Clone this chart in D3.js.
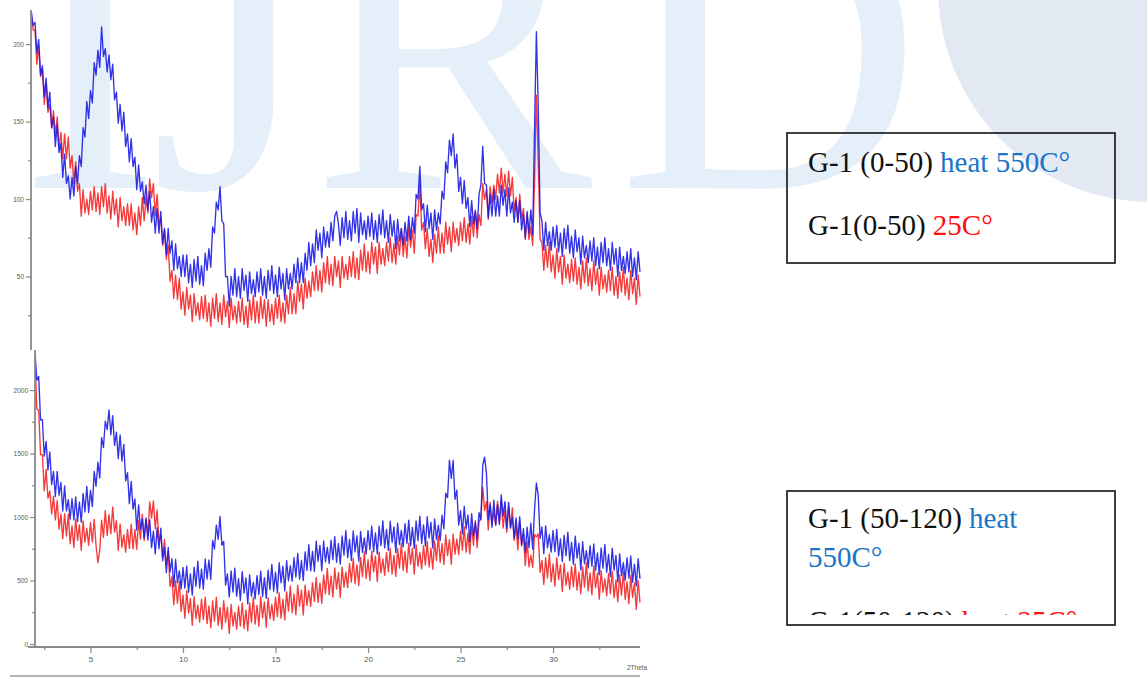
<!DOCTYPE html>
<html><head><meta charset="utf-8">
<script src="https://cdn.jsdelivr.net/npm/d3@7"></script>
<style>body{margin:0;background:#fff}svg{display:block}</style>
</head><body>
<svg id="c" width="1147" height="681"></svg>
<script>
// ---- data (2-theta scans, step 0.1 deg) ----
const angleStep = 0.1;
const topStart = 1.8;
const bottomStart = 2.0;
const xTicks = [5, 10, 15, 20, 25, 30];
const xMinorTicks = [2.5, 7.5, 12.5, 17.5, 22.5, 27.5, 32.5];
const topTicks = [50, 100, 150, 200];
const topMinorTicks = [25, 75, 125, 175];
const bottomTicks = [0, 500, 1000, 1500, 2000];
const bottomMinorTicks = [250, 750, 1250, 1750];

// G-1 (0-50) heat 550C
const topHeated = [221,212,
214,194,203,180,186,166,178,159,169,146,
153,134,148,130,136,114,129,110,115,100,
114,102,121,110,128,121,146,140,163,152,
170,162,188,180,196,185,211,192,197,182,
193,177,187,164,169,149,161,144,156,134,
142,124,139,121,127,106,122,105,111,97,
109,93,105,85,95,78,94,78,92,71,
81,64,81,65,73,54,71,55,63,50,
64,50,64,46,58,43,61,47,63,45,
57,44,65,54,68,56,82,78,98,93,
108,86,84,50,50,31,50,38,55,37,
50,36,55,41,51,34,53,39,48,37,
53,40,55,38,50,36,54,41,57,39,
51,37,56,42,52,35,55,42,52,42,
58,46,62,46,59,46,65,54,72,57,
71,59,80,67,78,62,82,69,79,69,
85,73,89,92,84,70,88,75,92,74,
86,73,92,78,94,72,91,77,86,74,
89,76,91,74,86,72,90,77,93,75,
86,72,90,76,86,68,87,73,81,70,
85,73,89,74,88,78,103,100,121,93,
97,79,96,81,91,74,93,80,91,84,
105,100,124,117,138,128,142,120,129,105,
114,97,112,94,101,82,99,84,92,81,
103,109,134,110,109,88,103,89,106,89,
102,89,109,96,106,89,107,91,98,85,
99,85,99,80,90,75,92,78,93,77,
145,208,160,91,86,67,85,70,79,67,
82,69,83,66,78,63,81,68,83,65,
76,62,80,66,75,58,76,62,70,59,
73,60,75,57,69,55,72,59,75,57,
68,54,72,58,68,50,69,54,63,52,
66,53,68,50,62,48,66,53];

// G-1 (0-50) 25C
const topRaw = [219,209,
209,187,199,179,184,161,175,156,161,146,
157,141,153,133,143,126,142,126,140,120,
128,110,124,105,110,89,106,91,100,90,
105,93,108,92,104,90,108,95,110,91,
102,87,105,90,100,82,101,86,95,83,
97,83,97,80,91,77,95,83,101,86,
101,91,113,101,110,89,103,84,87,70,
80,61,70,47,54,36,51,35,49,29,
40,25,43,29,38,21,39,25,33,22,
37,23,38,21,33,18,36,23,39,21,
33,19,38,24,34,17,36,22,31,20,
34,21,36,19,31,17,35,22,38,20,
34,20,37,23,35,18,35,21,32,19,
36,23,38,21,33,20,38,26,43,26,
39,26,47,34,45,29,49,36,47,37,
53,41,57,41,54,40,59,46,63,45,
58,44,63,50,60,43,63,49,58,48,
63,50,66,49,62,48,67,54,71,53,
66,52,72,58,69,52,72,58,68,57,
72,60,75,59,71,58,76,64,81,63,
76,62,82,69,80,65,90,89,111,80,
85,68,81,63,74,59,77,65,82,65,
78,65,85,71,82,66,85,72,81,70,
85,73,88,72,84,71,89,76,93,75,
90,83,110,100,106,87,108,97,109,100,
116,104,120,104,116,102,118,102,114,92,
101,85,103,87,94,74,90,74,82,70,
112,167,125,74,72,54,70,56,72,53,
64,49,68,53,63,45,64,49,58,46,
61,47,62,45,56,42,60,46,62,44,
55,41,60,45,55,38,56,42,51,40,
54,41,56,38,50,36,53,40,56,38,
49,35,54,39,49,32,51,37];

// G-1 (50-120) heat 550C
const bottomHeated = [
2291,2078,2108,1764,1768,1480,1596,1370,1512,1256,
1360,1162,1360,1172,1272,1048,1246,1048,1136,984,
1144,978,1158,964,1118,960,1186,1040,1242,1036,
1210,1082,1360,1242,1432,1308,1626,1548,1756,1691,
1844,1648,1798,1564,1668,1460,1647,1440,1572,1286,
1350,1105,1280,1062,1142,898,1096,904,986,834,
994,818,978,759,888,710,916,750,912,656,
760,562,760,567,672,453,666,483,576,434,
604,440,613,408,552,385,606,455,652,441,
590,432,670,512,662,508,816,748,936,825,
1005,778,808,464,552,370,576,410,597,376,
515,344,570,402,521,317,545,377,486,356,
539,388,573,374,523,360,581,430,627,416,
565,402,640,482,612,418,656,498,616,494,
679,528,713,510,658,500,726,580,782,576,
730,572,810,652,777,578,811,648,761,634,
817,664,846,644,793,630,851,700,894,680,
824,658,890,727,852,653,886,723,836,709,
894,743,928,727,874,709,928,775,970,757,
903,737,967,801,923,721,951,785,895,765,
947,793,975,773,919,753,970,814,1006,792,
938,772,1002,836,958,756,986,823,936,814,
1014,908,1188,1154,1448,1305,1446,1140,1212,936,
1050,868,1085,907,1017,803,1026,853,957,825,
1034,978,1408,1472,1348,980,1096,920,1132,936,
1100,942,1175,1007,1122,908,1116,918,996,834,
994,828,1003,784,908,720,921,759,951,746,
1060,1268,1170,832,922,711,931,758,861,724,
894,728,903,694,828,650,856,695,880,658,
800,627,850,677,792,583,806,633,736,599,
774,613,788,579,718,545,757,597,785,565,
705,532,755,582,697,488,711,538,641,504,
679,518,693,487,628,458,672,514];

// G-1 (50-120) 25C
const bottomRaw = [
2236,1852,1840,1492,1492,1208,1376,1148,1206,1024,
1164,978,1128,904,1023,830,1026,850,1022,790,
930,760,986,818,938,738,970,802,910,778,
958,802,982,774,640,740,976,840,1052,856,
1020,868,1080,882,972,738,946,763,861,723,
903,753,943,749,903,745,971,825,1022,814,
980,852,1120,992,1127,908,1056,808,856,684,
824,618,728,454,528,310,498,320,492,256,
385,204,420,244,357,148,372,200,306,172,
352,192,368,160,300,128,340,180,368,148,
288,117,342,172,290,84,311,142,249,117,
297,142,324,122,268,104,324,172,368,156,
304,140,372,208,332,132,364,200,312,184,
369,218,403,204,353,190,411,260,457,246,
394,230,462,298,424,228,464,304,420,296,
484,336,524,328,480,320,544,396,596,388,
536,370,600,432,562,368,606,448,566,444,
634,487,673,474,623,460,681,530,727,516,
664,500,732,568,692,492,724,560,671,541,
722,569,752,551,698,533,752,599,794,581,
728,563,794,629,752,550,780,613,722,592,
774,622,806,606,754,590,810,658,854,642,
790,627,860,697,822,628,866,708,826,704,
889,738,923,724,873,710,931,778,972,759,
960,992,1236,1052,1122,899,1116,938,1056,939,
1124,958,1128,914,1053,880,1086,910,1072,816,
930,742,963,772,862,618,806,608,697,604,
864,843,868,564,658,470,679,520,709,490,
630,457,680,507,622,413,636,463,566,432,
610,452,630,424,566,395,608,449,638,419,
560,389,614,443,560,353,578,408,514,380,
556,396,572,364,504,332,544,384,572,352,
490,317,540,367,482,273,498,328];

const legendTop = [
  [{t:"G-1 (0-50) ", c:"black"}, {t:"heat 550C°", c:"blue"}],
  [{t:"G-1(0-50) ", c:"black"}, {t:"25C°", c:"red"}]
];
const legendBottom = [
  [{t:"G-1 (50-120) ", c:"black"}, {t:"heat", c:"blue"}],
  [{t:"550C°", c:"blue"}],
  [{t:"G-1(50-120) ", c:"black"}, {t:"heat 25C°", c:"red"}]
];
const watermarkLetters = ["I", "J", "R", "D"];

// ---- drawing ----
const svg = d3.select("#c");
const COL = {heated:"#1c1ce6", raw:"#f52525", axis:"#8a8a8a", tick:"#5a5a5a",
             black:"#111", blue:"#1a75c8", red:"#ff1010", wm:"#e4eff9", globe:"#e3e9f3"};

// watermark
const wm = svg.append("g");
wm.append("circle").attr("cx", 1152).attr("cy", -12).attr("r", 214).attr("fill", COL.globe);
const wmX = [20, 150, 312, 618];
wm.selectAll("text.wm").data(watermarkLetters).join("text")
  .attr("class","wm")
  .attr("x", (d,i) => wmX[i]).attr("y", 188)
  .attr("font-family", "Liberation Serif, serif").attr("font-size", 420)
  .attr("fill", COL.wm).text(d => d);

const xScale = d3.scaleLinear().domain([2, 34.7]).range([35, 640]);
const yTop = d3.scaleLinear().domain([0, 222]).range([354, 10]);
const yBot = d3.scaleLinear().domain([0, 2300]).range([644, 352]);

const defs = svg.append("defs");
defs.append("clipPath").attr("id","clipTop").append("rect").attr("x",31).attr("y",8).attr("width",611).attr("height",342);
defs.append("clipPath").attr("id","clipBot").append("rect").attr("x",35).attr("y",350).attr("width",607).attr("height",297);
defs.append("clipPath").attr("id","clipLeg2").append("rect").attr("x",787).attr("y",491).attr("width",330).attr("height",124);

function drawSeries(g, data, start, y, color) {
  const line = d3.line().x((d,i) => xScale(start + i*angleStep)).y(d => y(d));
  g.append("path").datum(data).attr("d", line)
    .attr("fill","none").attr("stroke", color).attr("stroke-width", 1.35)
    .attr("stroke-opacity", 0.9).attr("stroke-linejoin","round");
}

const gTop = svg.append("g").attr("clip-path","url(#clipTop)");
drawSeries(gTop, topRaw, topStart, yTop, COL.raw);
drawSeries(gTop, topHeated, topStart, yTop, COL.heated);

const gBot = svg.append("g").attr("clip-path","url(#clipBot)");
drawSeries(gBot, bottomRaw, bottomStart, yBot, COL.raw);
drawSeries(gBot, bottomHeated, bottomStart, yBot, COL.heated);

function styleAxis(g, fs) {
  g.select(".domain").remove();
  g.selectAll("line").attr("stroke", COL.axis).attr("stroke-width", 1.2);
  g.selectAll("text").attr("fill", COL.tick).attr("font-size", fs).attr("font-family","Liberation Sans, Arial, sans-serif");
}

// top y axis
const ayTop = svg.append("g").attr("transform","translate(31,0)")
  .call(d3.axisLeft(yTop).tickValues(topTicks).tickSize(5).tickPadding(2).tickFormat(d3.format("d")));
styleAxis(ayTop, 6.5);
svg.append("g").attr("transform","translate(31,0)")
  .call(d3.axisLeft(yTop).tickValues(topMinorTicks).tickSize(3).tickFormat(""))
  .call(g => styleAxis(g, 6));
svg.append("line").attr("x1",31).attr("x2",31).attr("y1",10).attr("y2",350)
  .attr("stroke", COL.axis).attr("stroke-width", 1.8);

// bottom y axis
const ayBot = svg.append("g").attr("transform","translate(35,0)")
  .call(d3.axisLeft(yBot).tickValues(bottomTicks).tickSize(5).tickPadding(2).tickFormat(d3.format("d")));
styleAxis(ayBot, 6.5);
svg.append("g").attr("transform","translate(35,0)")
  .call(d3.axisLeft(yBot).tickValues(bottomMinorTicks).tickSize(3).tickFormat(""))
  .call(g => styleAxis(g, 6));
svg.append("line").attr("x1",35).attr("x2",35).attr("y1",350).attr("y2",647)
  .attr("stroke", COL.axis).attr("stroke-width", 1.8);

// x axis
const ax = svg.append("g").attr("transform","translate(0,647)")
  .call(d3.axisBottom(xScale).tickValues(xTicks).tickSize(6).tickPadding(3).tickFormat(d3.format("d")));
styleAxis(ax, 8);
svg.append("g").attr("transform","translate(0,647)")
  .call(d3.axisBottom(xScale).tickValues(xMinorTicks).tickSize(3).tickFormat(""))
  .call(g => styleAxis(g, 6));
svg.append("line").attr("x1",28).attr("x2",640).attr("y1",647).attr("y2",647)
  .attr("stroke", COL.axis).attr("stroke-width", 1.8);
svg.append("text").attr("x",627).attr("y",670).attr("font-size",6.5).attr("fill",COL.tick)
  .attr("font-family","Liberation Sans, Arial, sans-serif").text("2Theta");
svg.append("line").attr("x1",10).attr("x2",640).attr("y1",676).attr("y2",676)
  .attr("stroke","#b5b5b5").attr("stroke-width",2);

// legends
function drawLegend(box, lines, baselines, clip) {
  svg.append("rect").attr("x",box[0]).attr("y",box[1]).attr("width",box[2]).attr("height",box[3])
    .attr("fill","none").attr("stroke","#111").attr("stroke-width",1.6);
  const g = svg.append("g");
  if (clip) g.attr("clip-path", clip);
  lines.forEach((ln, i) => {
    const t = g.append("text").attr("x", 808).attr("y", baselines[i])
      .attr("font-family","Liberation Serif, 'Times New Roman', serif").attr("font-size", 29);
    ln.forEach(p => t.append("tspan").attr("fill", COL[p.c]).text(p.t));
  });
}
drawLegend([787,133,328,130], legendTop, [172,235], null);
drawLegend([787,491,328,134], legendBottom, [528,567,631], "url(#clipLeg2)");
</script>
</body></html>
